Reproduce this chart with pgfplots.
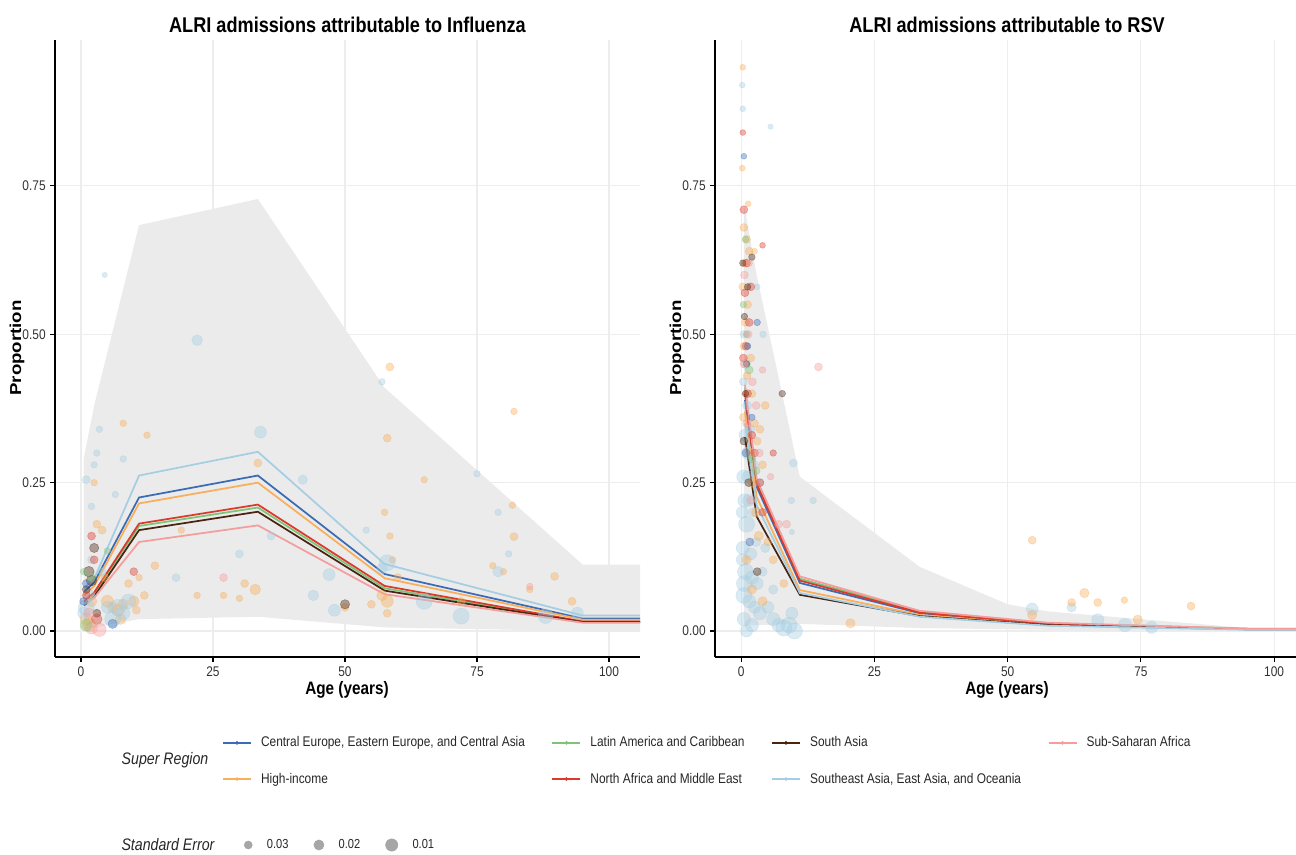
\documentclass[border=0pt]{standalone}
\usepackage{pgfplots}
\pgfplotsset{compat=1.18}
\usepackage{fontspec}
\setmainfont{Liberation Sans}[FakeStretch=0.85]
\newfontfamily\widesans{Liberation Sans}[FakeStretch=1.176]

\definecolor{ce}{HTML}{3B6BB5}
\definecolor{hi}{HTML}{F9AE5B}
\definecolor{la}{HTML}{7DC47A}
\definecolor{na}{HTML}{DB3A2A}
\definecolor{sa}{HTML}{4A2410}
\definecolor{sea}{HTML}{A6CEE3}
\definecolor{ssa}{HTML}{F59C9C}
\definecolor{band}{HTML}{EBEBEB}

\pgfplotsset{
  panel/.style={
    scale only axis, height=462.75pt,
    xmin=-4.92, ymin=-0.0438, ymax=0.996,
    axis x line*=bottom, axis y line*=left,
    x axis line style={-}, y axis line style={-},
    axis line style={black, line width=1.1pt},
    tick pos=left, tick align=outside, major tick length=3.5pt,
    tick style={black, line width=0.8pt},
    xtick={0,25,50,75,100}, ytick={0,0.25,0.5,0.75},
    grid=major, major grid style={black!7, line width=0.8pt},
    /pgf/number format/assume math mode=true,
    tick label style={font=\fontsize{10.5}{12}\selectfont, text=black!80},
    yticklabel style={/pgf/number format/.cd, fixed, fixed zerofill, precision=2},
    scaled y ticks=false,
    clip=true,
  },
  pts/.style={scatter, only marks, mark=*, forget plot,
    mark options={draw=#1, fill=#1, opacity=0.4},
    point meta=\thisrow{s},
    visualization depends on={value \thisrow{s} \as \ptsize},
    scatter/@pre marker code/.code={\scope[mark size=\ptsize pt]},
    scatter/@post marker code/.code={\endscope}},
  fit/.style={draw=#1, line width=1.3pt, no markers, forget plot},
  legend image code/.code={\draw[mark repeat=2, mark phase=2, #1]
    plot coordinates {(0pt,0pt) (10.5pt,0pt) (21pt,0pt)};},
}

\begin{document}
\begin{tikzpicture}
\useasboundingbox (0,0) rectangle (972pt,641.25pt);

% ---------------- Influenza ----------------
\begin{axis}[panel, at={(41.25pt,148.5pt)}, anchor=south west,
  width=438.75pt, xmax=105.87,
  legend columns=4, legend cell align=left,
  legend style={draw=none, fill=none, inner sep=0pt,
    at={(0.2855,-0.1685)}, anchor=west,
    font=\fontsize{10.5}{12}\selectfont, text=black!85,
    row sep=14pt,
    /tikz/every even column/.append style={column sep=18pt},
    /tikz/every odd column/.append style={column sep=5pt}},
]
\addlegendimage{ce, line width=1.1pt, mark=*, mark size=0.7pt}
\addlegendentry{Central Europe, Eastern Europe, and Central Asia}
\addlegendimage{la, line width=1.1pt, mark=*, mark size=0.7pt}
\addlegendentry{Latin America and Caribbean}
\addlegendimage{sa, line width=1.1pt, mark=*, mark size=0.7pt}
\addlegendentry{South Asia}
\addlegendimage{ssa, line width=1.1pt, mark=*, mark size=0.7pt}
\addlegendentry{Sub-Saharan Africa}
\addlegendimage{hi, line width=1.1pt, mark=*, mark size=0.7pt}
\addlegendentry{High-income}
\addlegendimage{na, line width=1.1pt, mark=*, mark size=0.7pt}
\addlegendentry{North Africa and Middle East}
\addlegendimage{sea, line width=1.1pt, mark=*, mark size=0.7pt}
\addlegendentry{Southeast Asia, East Asia, and Oceania}

\addplot[fill=band, draw=none, forget plot] table[row sep=\\] {
x y\\ 0.5 0.29\\ 2.5 0.38\\ 11 0.684\\ 33.5 0.728\\ 57.5 0.41\\ 95 0.112\\ 110 0.112\\
110 0\\ 95 0\\ 57.5 0.006\\ 33.5 0.024\\ 11 0.02\\ 2.5 0.006\\ 0.5 0.002\\
};

\addplot[pts=hi] table[row sep=\\] {
x y s\\ 1 0.02 4.5\\ 1.5 0.01 5\\ 2 0.05 4\\ 3 0.18 3\\ 4 0.17 3\\ 5 0.05 4.5\\ 6 0.04 4\\
7 0.035 4.5\\ 8 0.045 4\\ 9 0.08 3\\ 10 0.05 4\\ 10.5 0.035 3\\ 12 0.06 3\\ 12.5 0.33 2.5\\
11 0.09 2.5\\ 8 0.35 2.5\\ 14 0.11 3\\ 19 0.17 2.5\\ 22 0.06 2.5\\ 27 0.06 2.5\\ 30 0.055 2.5\\
31 0.08 3\\ 33 0.07 4\\ 33.5 0.283 3\\ 50 0.04 3\\ 55 0.045 3\\ 57 0.06 4\\ 58 0.03 3\\
58 0.05 4.5\\ 58.5 0.445 3\\ 58 0.325 3\\ 58.5 0.16 2.5\\ 59 0.12 2.5\\ 57.5 0.2 2.5\\
60 0.09 3\\ 65 0.255 2.5\\ 72 0.05 3\\ 82 0.37 2.5\\ 81.7 0.212 2.5\\ 82 0.159 3\\ 80 0.1 2.5\\
89.7 0.092 3\\ 93 0.05 3\\ 78 0.11 2.5\\ 85 0.07 2.5\\ 7.5 0.02 4\\ 4.5 0.09 3\\ 2.5 0.25 2.5\\
};
\addplot[pts=sea] table[row sep=\\] {
x y s\\ 0.5 0.03 4.5\\ 1 0.255 3\\ 1 0.04 6\\ 1.5 0.06 4.5\\ 2 0.21 2.5\\ 2.5 0.28 2.5\\
3 0.3 2.5\\ 3.5 0.34 2.5\\ 4.5 0.6 2\\ 5 0.04 4.5\\ 6 0.02 6\\ 7 0.04 6\\ 8 0.03 5\\ 9 0.05 5.5\\
4 0.1 3\\ 6.5 0.23 2.5\\ 2 0.12 3\\ 8 0.29 2.5\\ 22 0.49 4\\ 34 0.335 4.5\\ 30 0.13 3\\
44 0.06 4\\ 42 0.255 3.5\\ 47 0.095 4.5\\ 57 0.42 2.5\\ 58 0.115 6\\ 57 0.105 4\\ 65 0.05 6\\
75 0.265 2.5\\ 81 0.13 2.5\\ 79 0.2 2.5\\ 79 0.1 4\\ 88 0.025 5.5\\ 94 0.03 4.5\\ 72 0.025 6\\
36 0.16 3\\ 48 0.035 4.5\\ 54 0.17 2.5\\ 18 0.09 3\\
};
\addplot[pts=sa] table[row sep=\\] {
x y s\\ 1.5 0.1 4\\ 2 0.085 4\\ 2.5 0.14 3.5\\ 3 0.03 3\\ 50 0.045 3.5\\ 1 0.07 3\\
};
\addplot[pts=na] table[row sep=\\] {
x y s\\ 1 0.06 3\\ 2.5 0.12 3\\ 3 0.02 4\\ 10 0.1 3\\ 2 0.16 3\\
};
\addplot[pts=ssa] table[row sep=\\] {
x y s\\ 2 0.005 4.5\\ 3.5 0.002 5\\ 27 0.09 3\\ 85 0.075 2.5\\ 1.5 0.03 4\\
};
\addplot[pts=ce] table[row sep=\\] {
x y s\\ 6 0.012 3.5\\ 1 0.08 3\\ 0.5 0.05 3\\
};
\addplot[pts=la] table[row sep=\\] {
x y s\\ 1 0.01 4.5\\ 2 0.09 3\\ 5 0.135 2.5\\ 0.5 0.1 2.5\\
};

\addplot[fit=ce] coordinates {(0.6,0.066) (2.5,0.082) (11,0.225) (33.5,0.262) (57.5,0.096) (95,0.021) (110,0.021)};
\addplot[fit=hi] coordinates {(0.6,0.060) (2.5,0.076) (11,0.215) (33.5,0.250) (57.5,0.089) (95,0.019) (110,0.019)};
\addplot[fit=la] coordinates {(0.6,0.048) (2.5,0.063) (11,0.177) (33.5,0.208) (57.5,0.072) (95,0.0155) (110,0.0155)};
\addplot[fit=na] coordinates {(0.6,0.050) (2.5,0.065) (11,0.181) (33.5,0.213) (57.5,0.076) (95,0.016) (110,0.016)};
\addplot[fit=sa] coordinates {(0.6,0.043) (2.5,0.058) (11,0.170) (33.5,0.201) (57.5,0.068) (95,0.015) (110,0.015)};
\addplot[fit=sea] coordinates {(0.6,0.072) (2.5,0.088) (11,0.262) (33.5,0.302) (57.5,0.113) (95,0.026) (110,0.026)};
\addplot[fit=ssa] coordinates {(0.6,0.045) (2.5,0.056) (11,0.150) (33.5,0.178) (57.5,0.062) (95,0.014) (110,0.014)};
\end{axis}

% ---------------- RSV ----------------
\begin{axis}[panel, at={(536.25pt,148.5pt)}, anchor=south west,
  width=435.75pt, xmax=104.1,
  legend columns=3,
  legend image code/.code={\draw[#1] plot coordinates {(0pt,0pt)};},
  legend style={draw=none, fill=none, inner sep=0pt,
    at={(-0.8107,-0.3047)}, anchor=west,
    font=\fontsize{9.8}{11}\selectfont, text=black!85,
    /tikz/every even column/.append style={column sep=17pt},
    /tikz/every odd column/.append style={column sep=9pt}},
]
\addlegendimage{only marks, mark=*, mark size=3pt, draw=black!35, fill=black!35}
\addlegendentry{0.03}
\addlegendimage{only marks, mark=*, mark size=3.8pt, draw=black!35, fill=black!35}
\addlegendentry{0.02}
\addlegendimage{only marks, mark=*, mark size=4.6pt, draw=black!35, fill=black!35}
\addlegendentry{0.01}

\addplot[fill=band, draw=none, forget plot] table[row sep=\\] {
x y\\ 0.5 0.72\\ 2.9 0.60\\ 11 0.26\\ 33.5 0.108\\ 50 0.045\\ 57.5 0.033\\ 95 0.005\\ 110 0.004\\
110 0\\ 95 0\\ 57.5 0.002\\ 33.5 0.005\\ 11 0.012\\ 2.9 0.01\\ 0.5 0.01\\
};

\addplot[pts=sea] table[row sep=\\] {
x y s\\ 0.2 0.92 2.2\\ 0.3 0.88 2.2\\ 0.5 0.02 5\\ 0.5 0.06 6\\ 0.8 0.1 6\\ 0.3 0.14 5\\
1 0.18 6\\ 0.6 0.22 5\\ 0.4 0.26 5\\ 1.2 0.3 4.5\\ 0.7 0.33 4.5\\ 0.2 0.12 4.5\\ 1.5 0.05 5\\
2 0.09 5\\ 1.8 0.13 4.5\\ 2.5 0.04 4.5\\ 3 0.08 4.5\\ 0.9 0.45 3.5\\ 0.5 0.5 3\\ 1.1 0.38 3.5\\
0.4 0.42 3\\ 1.4 0.22 4.5\\ 2.2 0.2 3.5\\ 2.8 0.15 3.5\\ 3.5 0.03 5\\ 4 0.1 3.5\\ 5 0.04 4.5\\
6 0.02 5\\ 7 0.01 5\\ 8 0.005 6\\ 9 0.01 6\\ 10 0.0 6\\ 9.5 0.03 4.5\\ 6 0.07 3.5\\ 4.1 0.5 2.5\\
4.5 0.14 3.5\\ 3.5 0.25 3\\ 5.5 0.85 2\\ 3 0.58 2.2\\ 1.3 0.26 4.5\\ 0.2 0.2 4.5\\ 1.7 0.34 3.5\\
2.4 0.28 3.5\\ 0.6 0.08 6\\ 1 0.0 4.5\\ 2 0.01 5\\ 9.8 0.283 3\\ 9.4 0.22 2.5\\ 13.5 0.22 2.5\\
9.5 0.167 2\\ 54.6 0.037 4.5\\ 62 0.04 3.5\\ 66.9 0.019 4.5\\ 72 0.01 5\\ 77 0.006 4.5\\
};
\addplot[pts=hi] table[row sep=\\] {
x y s\\ 0.3 0.95 2.2\\ 0.2 0.78 2.2\\ 0.5 0.68 3\\ 1 0.66 3\\ 1.5 0.64 3\\ 0.7 0.62 3\\
0.3 0.58 3\\ 1.2 0.55 3\\ 0.8 0.52 3\\ 0.5 0.48 3\\ 1.8 0.46 3\\ 1.1 0.43 3\\ 2 0.4 3\\
2.5 0.35 3\\ 3 0.32 3\\ 1.6 0.3 3.5\\ 2.2 0.25 3.5\\ 0.4 0.36 3\\ 2.8 0.2 3.5\\ 3.3 0.16 3.5\\
1 0.12 3.5\\ 2 0.07 3.5\\ 4 0.05 3.5\\ 5 0.15 3\\ 4 0.28 3\\ 3.5 0.34 3\\ 8 0.08 3\\
2.5 0.64 2.2\\ 1.3 0.72 2.2\\ 4.5 0.38 3\\ 6 0.12 3\\ 54.6 0.153 3\\ 20.5 0.013 3.5\\
54.6 0.027 3.5\\ 62 0.048 3\\ 64.4 0.064 3.5\\ 66.9 0.048 3\\ 71.9 0.052 2.5\\ 74.4 0.019 3.5\\
84.4 0.042 3\\
};
\addplot[pts=na] table[row sep=\\] {
x y s\\ 0.3 0.84 2.2\\ 0.5 0.71 3\\ 1 0.62 3\\ 0.7 0.57 3\\ 1.5 0.52 3\\ 0.4 0.46 3\\
1.2 0.4 3\\ 2 0.33 3\\ 2.5 0.3 3\\ 3.5 0.25 3\\ 4 0.2 3\\ 4 0.65 2.2\\ 6 0.3 2.5\\
0.9 0.48 3\\ 1.8 0.58 3\\
};
\addplot[pts=sa] table[row sep=\\] {
x y s\\ 0.3 0.62 2.5\\ 0.6 0.53 2.5\\ 1 0.45 2.5\\ 0.5 0.32 3\\ 1.4 0.25 3\\ 2 0.63 2.5\\
1.2 0.58 2.5\\ 0.8 0.4 2.5\\ 7.7 0.4 2.5\\ 3 0.1 3\\
};
\addplot[pts=la] table[row sep=\\] {
x y s\\ 0.8 0.66 2.5\\ 1.5 0.44 3\\ 2.8 0.27 3\\ 2 0.29 3\\ 1 0.5 2.5\\ 0.4 0.55 2.5\\
};
\addplot[pts=ce] table[row sep=\\] {
x y s\\ 0.5 0.8 2.2\\ 1.2 0.48 2.5\\ 3 0.52 2.5\\ 2 0.36 2.5\\ 0.9 0.3 3\\ 1.6 0.15 3\\
};
\addplot[pts=ssa] table[row sep=\\] {
x y s\\ 0.6 0.6 3\\ 1.3 0.5 3\\ 2.1 0.42 3\\ 2.8 0.38 3\\ 1 0.35 3\\ 3.4 0.3 3\\ 4 0.44 2.5\\
1.8 0.22 3\\ 0.5 0.45 3\\ 1.5 0.62 2.5\\ 7 0.18 3\\ 8.5 0.18 3\\ 5.5 0.26 2.5\\ 14.5 0.445 3\\
};

\addplot[fit=ce] coordinates {(0.7,0.389) (2.9,0.243) (11,0.081) (33.5,0.030) (57.5,0.012) (95,0.003) (110,0.003)};
\addplot[fit=hi] coordinates {(0.7,0.370) (2.9,0.226) (11,0.069) (33.5,0.027) (57.5,0.011) (95,0.003) (110,0.003)};
\addplot[fit=la] coordinates {(0.7,0.410) (2.9,0.252) (11,0.088) (33.5,0.033) (57.5,0.013) (95,0.004) (110,0.004)};
\addplot[fit=na] coordinates {(0.7,0.400) (2.9,0.248) (11,0.085) (33.5,0.031) (57.5,0.012) (95,0.003) (110,0.003)};
\addplot[fit=sa] coordinates {(0.7,0.327) (2.9,0.193) (11,0.061) (33.5,0.025) (57.5,0.010) (95,0.003) (110,0.003)};
\addplot[fit=sea] coordinates {(0.7,0.350) (2.9,0.212) (11,0.064) (33.5,0.024) (57.5,0.009) (95,0.002) (110,0.002)};
\addplot[fit=ssa] coordinates {(0.7,0.415) (2.9,0.256) (11,0.092) (33.5,0.034) (57.5,0.014) (95,0.004) (110,0.004)};
\end{axis}

% titles and labels
\node[font=\fontsize{16}{19}\selectfont\bfseries] at (260.6pt,622.5pt) {ALRI admissions attributable to Influenza};
\node[font=\fontsize{16}{19}\selectfont\bfseries] at (755.25pt,622.5pt) {ALRI admissions attributable to RSV};
\node[font=\fontsize{13.5}{16}\selectfont\bfseries] at (260.25pt,123.75pt) {Age (years)};
\node[font=\fontsize{13.5}{16}\selectfont\bfseries] at (755.25pt,123.75pt) {Age (years)};
\node[font=\widesans\fontsize{11.9}{14}\selectfont\bfseries, rotate=90] at (12.75pt,380.25pt) {Proportion};
\node[font=\widesans\fontsize{11.9}{14}\selectfont\bfseries, rotate=90] at (507.75pt,380.25pt) {Proportion};
\node[font=\fontsize{12.5}{15}\selectfont\itshape, text=black!85] at (123.75pt,71.25pt) {Super Region};
\node[font=\fontsize{12.5}{15}\selectfont\itshape, text=black!85] at (126pt,7.5pt) {Standard Error};
\end{tikzpicture}
\end{document}
